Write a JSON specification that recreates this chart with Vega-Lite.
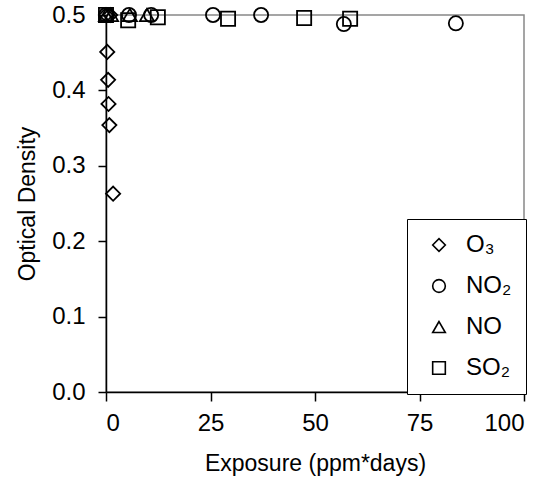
{
  "$schema": "https://vega.github.io/schema/vega-lite/v6.json",
  "width": 418,
  "height": 377,
  "autosize": {"type": "none"},
  "padding": {"left": 106, "top": 15, "right": 24, "bottom": 88},
  "background": "white",
  "config": {
    "font": "Liberation Sans",
    "view": {"stroke": "#888888", "strokeWidth": 1.5},
    "axis": {
      "grid": false,
      "domainColor": "black",
      "domainWidth": 1.5,
      "tickColor": "black",
      "tickWidth": 1.5,
      "labelFont": "Liberation Sans",
      "labelFontSize": 24,
      "labelColor": "black",
      "titleFont": "Liberation Sans",
      "titleFontSize": 23,
      "titleFontWeight": "normal",
      "titleColor": "black"
    }
  },
  "data": {
    "values": [
      {"gas": "O₃", "exposure": 0, "od": 0.5},
      {"gas": "O₃", "exposure": 1, "od": 0.5},
      {"gas": "O₃", "exposure": 0.3, "od": 0.451},
      {"gas": "O₃", "exposure": 0.5, "od": 0.414},
      {"gas": "O₃", "exposure": 0.6, "od": 0.382},
      {"gas": "O₃", "exposure": 0.8, "od": 0.354},
      {"gas": "O₃", "exposure": 1.7, "od": 0.263},
      {"gas": "NO₂", "exposure": 0, "od": 0.5},
      {"gas": "NO₂", "exposure": 5.5, "od": 0.5},
      {"gas": "NO₂", "exposure": 10.8, "od": 0.5},
      {"gas": "NO₂", "exposure": 25.6, "od": 0.5},
      {"gas": "NO₂", "exposure": 37.1, "od": 0.5},
      {"gas": "NO₂", "exposure": 56.9, "od": 0.488},
      {"gas": "NO₂", "exposure": 83.7, "od": 0.489},
      {"gas": "NO", "exposure": 0, "od": 0.5},
      {"gas": "NO", "exposure": 1.2, "od": 0.5},
      {"gas": "NO", "exposure": 5.7, "od": 0.5},
      {"gas": "NO", "exposure": 9.8, "od": 0.5},
      {"gas": "SO₂", "exposure": 0, "od": 0.5},
      {"gas": "SO₂", "exposure": 5.3, "od": 0.493},
      {"gas": "SO₂", "exposure": 12.4, "od": 0.497},
      {"gas": "SO₂", "exposure": 29.2, "od": 0.495},
      {"gas": "SO₂", "exposure": 47.4, "od": 0.496},
      {"gas": "SO₂", "exposure": 58.4, "od": 0.495}
    ]
  },
  "mark": {"type": "point", "filled": false, "stroke": "black", "strokeWidth": 1.8, "size": 200, "clip": false, "opacity": 1},
  "encoding": {
    "x": {
      "field": "exposure",
      "type": "quantitative",
      "scale": {"domain": [0, 100], "nice": false},
      "axis": {"values": [0, 25, 50, 75, 100], "tickSize": 9, "labelPadding": 10, "title": "Exposure (ppm*days)", "titlePadding": 17}
    },
    "y": {
      "field": "od",
      "type": "quantitative",
      "scale": {"domain": [0, 0.5], "nice": false},
      "axis": {"values": [0, 0.1, 0.2, 0.3, 0.4, 0.5], "format": ".1f", "tickSize": 8, "labelPadding": 13, "title": "Optical Density", "titlePadding": 12}
    },
    "shape": {
      "field": "gas",
      "type": "nominal",
      "scale": {"domain": ["O₃", "NO₂", "NO", "SO₂"], "range": ["diamond", "circle", "triangle-up", "square"]},
      "legend": {
        "title": null,
        "orient": "none",
        "legendX": 301,
        "legendY": 204,
        "strokeColor": "black",
        "fillColor": "white",
        "padding": 14,
        "symbolOffset": 6,
        "symbolSize": 160,
        "symbolStrokeColor": "black",
        "symbolStrokeWidth": 1.6,
        "symbolFillColor": "transparent",
        "labelFont": "Liberation Sans",
        "labelFontSize": 24,
        "labelColor": "black",
        "labelOffset": 15,
        "rowPadding": 17
      }
    }
  }
}
